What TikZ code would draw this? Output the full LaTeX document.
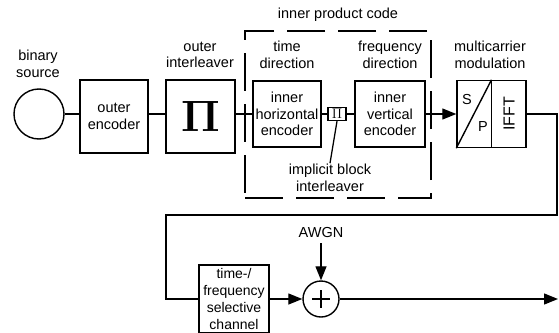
\RequirePackage{fix-cm}
\documentclass[tikz,border=0pt]{standalone}
\usepackage[no-math]{fontspec}
\setmainfont{Liberation Sans}
\usetikzlibrary{arrows.meta,positioning,calc}
\tikzset{
  blk/.style ={draw,line width=1.4pt,align=center,inner sep=0pt,minimum width=68pt,minimum height=66pt},
  sig/.style ={draw,line width=1.3pt},
  arr/.style ={sig,-{Triangle[length=14pt,width=11pt]}},
  lbl/.style ={align=center,inner sep=1pt},
  frame/.style={draw,line width=1.1pt,dash pattern=on 38pt off 13pt,
                minimum width=186pt,minimum height=167pt,inner sep=0pt},
}

\begin{document}
\begin{tikzpicture}[x=1pt,y=-1pt,font=\fontsize{14.5}{16.5}\selectfont]
\useasboundingbox (0,0) rectangle (559,332);
  % inner product code frame
  \node[frame] (ipc) at (338,114.5) {};
  \node[lbl] (ipclbl) at (338,15) {inner product code};
  % transmitter chain
  \node[draw,circle,line width=1.4pt,minimum size=50pt,inner sep=0pt] (src) at (39,114) {};
  \node[blk,minimum height=73pt] (oenc) at (114,116.5) {outer\\encoder};
  \node[blk,minimum width=69pt,minimum height=73pt] (oint) at (200.5,116.5)
    {\fontsize{44}{44}\selectfont$\mathbf{\Pi}$};
  \node[blk] (ihor) at (287,114) {inner\\horizontal\\encoder};
  \node[blk,minimum width=18pt,minimum height=13pt] (pib) at (337,114)
    {\fontsize{14}{14}\selectfont$\Pi$};
  \node[blk,minimum width=70pt] (iver) at (390,114) {inner\\vertical\\encoder};
  \node[blk,minimum width=69pt,minimum height=67pt] (mcm) at (491.5,114) {};
  % labels
  \node[lbl] (srclbl) at (38,64) {binary\\source};
  \node[lbl] (ointlbl) at (200,55) {outer\\interleaver};
  \node[lbl] (ihorlbl) at (287,55) {time\\direction};
  \node[lbl] (iverlbl) at (390,55) {frequency\\direction};
  \node[lbl] (mcmlbl) at (490,55) {multicarrier\\modulation};
  \node[lbl] (pidlbl) at (330,178) {implicit block\\interleaver};
  % S/P and IFFT
  \draw[line width=1.4pt] ($(mcm.north west)!0.5!(mcm.north east)$) -- ($(mcm.south west)!0.5!(mcm.south east)$);
  \draw[line width=1.4pt] (mcm.south west) -- ($(mcm.north west)!0.5!(mcm.north east)$);
  \node[lbl] (sp1) at ($(mcm.center)+(-24.5,-14.5)$) {S};
  \node[lbl] (sp2) at ($(mcm.center)+(-8.5,12.5)$) {P};
  \node[lbl,rotate=90,font=\fontsize{16}{16}\selectfont] (fft) at ($(mcm.center)+(17.5,0)$) {IFFT};
  % channel
  \node[blk,minimum width=70pt,minimum height=68pt,font=\fontsize{14}{16.7}\selectfont] (chan) at (234,299)
    {time-/\\frequency\\selective\\channel};
  \node[draw,circle,line width=1.4pt,minimum size=36pt,inner sep=0pt] (add) at (321,299) {};
  \draw[line width=1.5pt] ($(add.center)+(-9,0)$) -- ($(add.center)+(9,0)$);
  \draw[line width=1.5pt] ($(add.center)+(0,-9)$) -- ($(add.center)+(0,9)$);
  \node[lbl,inner sep=5pt] (awgn) at (321,233) {AWGN};
  \coordinate (rt) at (557,215);
  \coordinate (lp) at (166,215);
  \coordinate (out) at (558,299);
  % connectors
  \draw[sig] (src.east) -- (src.east -| oenc.west);
  \draw[sig] (src.east -| oenc.east) -- (src.east -| oint.west);
  \draw[sig] (src.east -| oint.east) -- (ihor.west);
  \draw[sig] (ihor) -- (pib);
  \draw[sig] (pib) -- (iver);
  \draw[arr] (iver) -- (mcm);
  \draw[sig] (pib.south) -- (pidlbl.north);
  \draw[sig] (mcm.east) -| (rt) -- (lp) |- (chan.west);
  \draw[arr] (chan) -- (add);
  \draw[arr] (awgn) -- (add);
  \draw[arr] (add) -- (out);
\end{tikzpicture}
\end{document}
